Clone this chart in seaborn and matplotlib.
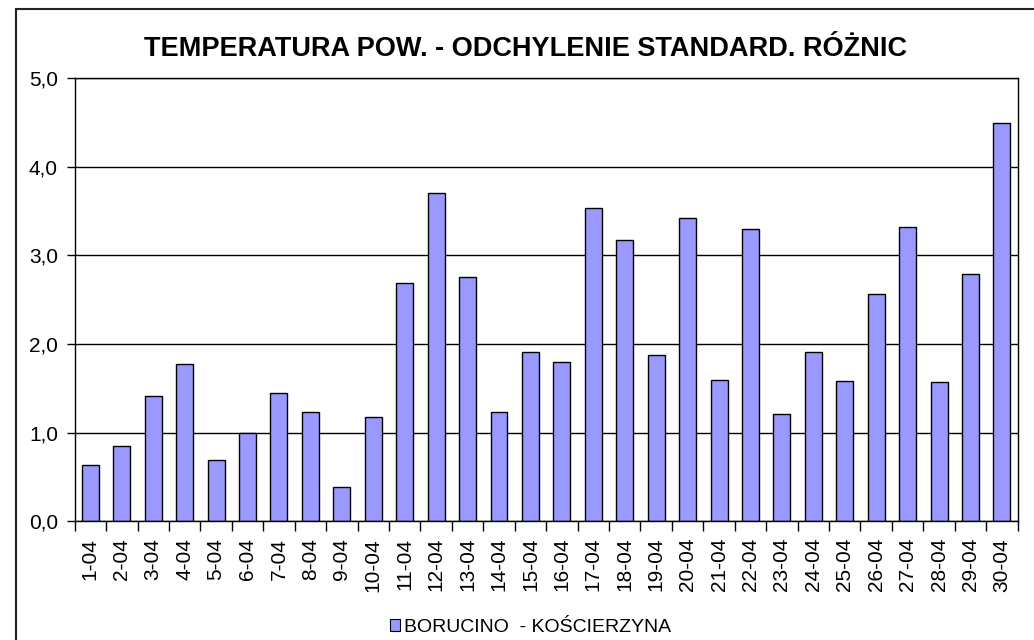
import matplotlib
matplotlib.use('Agg')
import matplotlib.pyplot as plt
from matplotlib.patches import Rectangle, Patch
from matplotlib.ticker import FuncFormatter, FixedLocator
import seaborn as sns
import pandas as pd

# Data
days = [f'{d}-04' for d in range(1, 31)]
std_diff = [0.63, 0.85, 1.41, 1.78, 0.69, 1.00, 1.45, 1.23, 0.39, 1.18,
            2.69, 3.70, 2.76, 1.23, 1.91, 1.80, 3.54, 3.17, 1.88, 3.42,
            1.60, 3.30, 1.21, 1.91, 1.58, 2.57, 3.32, 1.57, 2.79, 4.49]
series_name = 'BORUCINO  - KOŚCIERZYNA'
title = 'TEMPERATURA POW. - ODCHYLENIE STANDARD. RÓŻNIC'
bar_color = '#9999FF'

df = pd.DataFrame({'day': days, 'value': std_diff})

sns.set_style('white')
plt.rcParams['font.family'] = ['Liberation Sans', 'DejaVu Sans']
plt.rcParams['text.color'] = 'black'
plt.rcParams['xtick.color'] = 'black'
plt.rcParams['ytick.color'] = 'black'

fig = plt.figure(figsize=(10.34, 6.4), dpi=100)
ax = fig.add_axes([0.0722, 0.1855, 0.912, 0.6922])

sns.barplot(data=df, x='day', y='value', color=bar_color, edgecolor='black',
            linewidth=1.0, width=0.54, saturation=1, ax=ax)

ax.set_xlim(-0.5, len(days) - 0.5)
ax.set_ylim(0, 5)
ax.set_yticks([0, 1, 2, 3, 4, 5])
ax.yaxis.set_major_formatter(FuncFormatter(lambda v, p: f'{v:.1f}'.replace('.', ',')))
ax.grid(axis='y', color='black', linewidth=1.0)
ax.set_axisbelow(True)
ax.set_xlabel('')
ax.set_ylabel('')

for s in ax.spines.values():
    s.set_visible(True)
    s.set_color('black')
    s.set_linewidth(1.0)

ax.tick_params(axis='x', which='major', length=0, labelsize=15, rotation=90, pad=12)
ax.xaxis.set_minor_locator(FixedLocator([i - 0.5 for i in range(len(days) + 1)]))
ax.tick_params(axis='x', which='minor', bottom=True, length=7, width=1, color='black', direction='out')
ax.tick_params(axis='y', left=True, length=6, width=1, color='black', direction='out', labelsize=15, pad=6)

fig.text(0.508, 0.923, title, ha='center', va='center', fontsize=19.5, fontweight='bold')

handle = Patch(facecolor=bar_color, edgecolor='black', linewidth=0.8)
fig.legend([handle], [series_name], loc='center', bbox_to_anchor=(0.513, 0.02),
           frameon=False, fontsize=14, handlelength=0.55, handleheight=0.55,
           handletextpad=0.2, borderaxespad=0)

# outer chart frame (extends beyond right and bottom edges)
fig.patches.append(Rectangle((16 / 1034, -0.1), 1.2, 1 - 9 / 640 + 0.1,
                             transform=fig.transFigure, fill=False,
                             edgecolor='#222222', linewidth=1.5))

fig.savefig('out.png', dpi=100)
